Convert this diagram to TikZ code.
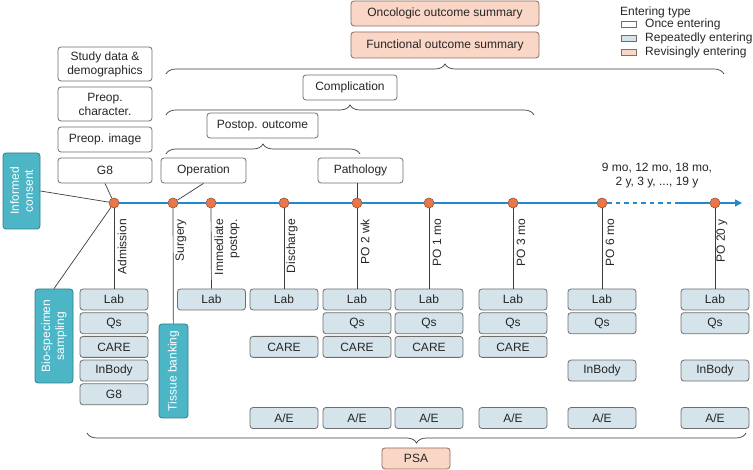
\documentclass[tikz,border=0pt]{standalone}
\usepackage{fontspec}
\setmainfont{Liberation Sans}
\usetikzlibrary{decorations.pathreplacing,arrows.meta}

\definecolor{boxgray}{HTML}{6E6E6E}
\definecolor{repblue}{HTML}{D5E3EB}
\definecolor{revfill}{HTML}{F9D6C6}
\definecolor{revdraw}{HTML}{8E6B5E}
\definecolor{samplefill}{HTML}{4CB6C7}
\definecolor{sampledraw}{HTML}{2E7E8A}
\definecolor{timeblue}{HTML}{1F8AD0}
\definecolor{dotfill}{HTML}{E8774B}
\definecolor{dotdraw}{HTML}{9C4E2E}
\definecolor{linegray}{HTML}{3C3C3C}

\begin{document}
\begin{tikzpicture}[x=1pt,y=1pt,font=\fontsize{12}{14}\selectfont,text=black!85]
        \tikzstyle{once box}=[draw=boxgray,fill=white,rounded corners=3pt,align=center,inner sep=0pt,line width=0.8pt,minimum height=25pt]
        \tikzstyle{rep box}=[draw=boxgray,fill=repblue,rounded corners=3pt,minimum width=68pt,minimum height=21pt,inner sep=0pt,line width=0.8pt,node distance=23.7pt]
        \tikzstyle{rev box}=[draw=revdraw,fill=revfill,rounded corners=3pt,inner sep=0pt,line width=0.8pt]
        \tikzstyle{sample box}=[draw=sampledraw,fill=samplefill,text=white,rounded corners=3pt,rotate=90,align=center,inner sep=0pt,line width=0.8pt]
        \tikzstyle{time dot}=[circle,draw=dotdraw,fill=dotfill,minimum size=10pt,inner sep=0pt,line width=0.6pt]
        \tikzstyle{time label}=[rotate=90,anchor=east,inner sep=0pt,align=right]
        \tikzstyle{conn}=[draw=linegray,line width=0.7pt]
        \tikzstyle{brace line}=[decorate,decoration={brace,amplitude=10pt},draw=linegray,line width=0.7pt]
        \tikzstyle{key box}=[draw=boxgray,minimum width=15pt,minimum height=6pt,inner sep=0pt,line width=0.7pt]

        \useasboundingbox (0,0) rectangle (753,470);

        % time points
        \node[time dot] (adm) at (114,267) {};
        \node[time dot] (sur) at (173,267) {};
        \node[time dot] (imm) at (211,267) {};
        \node[time dot] (dis) at (284,267) {};
        \node[time dot] (po2wk) at (357,267) {};
        \node[time dot] (po1mo) at (429,267) {};
        \node[time dot] (po3mo) at (513,267) {};
        \node[time dot] (po6mo) at (602,267) {};
        \node[time dot] (po20y) at (715,267) {};
        \coordinate (dashend) at (677,267);
        \coordinate (tip) at (742,267);

        \draw[draw=timeblue,line width=1.4pt] (adm) -- (sur) -- (imm) -- (dis) -- (po2wk) -- (po1mo) -- (po3mo) -- (po6mo);
        \draw[draw=timeblue,line width=1.4pt,dash pattern=on 4.5pt off 4pt] (po6mo) -- (dashend);
        \draw[draw=timeblue,line width=1.4pt] (dashend) -- (po20y);
        \draw[draw=timeblue,line width=1.4pt,-{Triangle[length=7pt,width=7pt]}] (po20y) -- (tip);

        \node[time label] (admlbl) at (122,251) {Admission};
        \node[time label] (surlbl) at (181,251) {Surgery};
        \node[time label] (immlbl) at (227,251) {Immediate\\postop.};
        \node[time label] (dislbl) at (292,251) {Discharge};
        \node[time label] (po2wklbl) at (365,251) {PO 2 wk};
        \node[time label] (po1molbl) at (437,251) {PO 1 mo};
        \node[time label] (po3molbl) at (521,251) {PO 3 mo};
        \node[time label] (po6molbl) at (610,251) {PO 6 mo};
        \node[time label] (po20ylbl) at (722,251) {PO 20 y};
        \node[align=center,inner sep=0pt] (later) at (657,294) {9 mo, 12 mo, 18 mo,\\2 y, 3 y, ..., 19 y};

        % repeated entries
        \node[rep box] (admlab) at (114,170.5) {Lab};
        \node[rep box] (admqs) [below of=admlab] {Qs};
        \node[rep box] (admcare) [below of=admqs] {CARE};
        \node[rep box] (adminb) [below of=admcare] {InBody};
        \node[rep box] (admg8) [below of=adminb] {G8};

        \node[rep box] (immlab) at (211.5,170.5) {Lab};

        \node[rep box] (dislab) at (284,170.5) {Lab};
        \node[rep box] (discare) [below of=dislab,node distance=47.4pt] {CARE};
        \node[rep box] (disae) [below of=discare,node distance=71.1pt] {A/E};

        \node[rep box] (po2wklab) at (357,170.5) {Lab};
        \node[rep box] (po2wkqs) [below of=po2wklab] {Qs};
        \node[rep box] (po2wkcare) [below of=po2wkqs] {CARE};
        \node[rep box] (po2wkae) [below of=po2wkcare,node distance=71.1pt] {A/E};

        \node[rep box] (po1molab) at (429,170.5) {Lab};
        \node[rep box] (po1moqs) [below of=po1molab] {Qs};
        \node[rep box] (po1mocare) [below of=po1moqs] {CARE};
        \node[rep box] (po1moae) [below of=po1mocare,node distance=71.1pt] {A/E};

        \node[rep box] (po3molab) at (513,170.5) {Lab};
        \node[rep box] (po3moqs) [below of=po3molab] {Qs};
        \node[rep box] (po3mocare) [below of=po3moqs] {CARE};
        \node[rep box] (po3moae) [below of=po3mocare,node distance=71.1pt] {A/E};

        \node[rep box] (po6molab) at (602,170.5) {Lab};
        \node[rep box] (po6moqs) [below of=po6molab] {Qs};
        \node[rep box] (po6moinb) [below of=po6moqs,node distance=47.4pt] {InBody};
        \node[rep box] (po6moae) [below of=po6moinb,node distance=47.4pt] {A/E};

        \node[rep box] (po20ylab) at (715,170.5) {Lab};
        \node[rep box] (po20yqs) [below of=po20ylab] {Qs};
        \node[rep box] (po20yinb) [below of=po20yqs,node distance=47.4pt] {InBody};
        \node[rep box] (po20yae) [below of=po20yinb,node distance=47.4pt] {A/E};

        % samples
        \node[sample box,minimum width=76pt,minimum height=37pt] (consent) at (21.5,279) {Informed\\consent};
        \node[sample box,minimum width=94pt,minimum height=38pt] (bio) at (54,134) {Bio-specimen\\sampling};
        \node[sample box,minimum width=94pt,minimum height=29pt] (tissue) at (173.5,99) {Tissue banking};

        % once entries
        \node[once box,minimum width=94pt,minimum height=34pt] (study) at (105,406) {Study data \&\\demographics};
        \node[once box,minimum width=94pt,minimum height=34pt] (preopchar) at (105,366) {Preop.\\character.};
        \node[once box,minimum width=94pt] (preopimg) at (105,330.5) {Preop. image};
        \node[once box,minimum width=94pt] (g8) at (105,299.5) {G8};
        \node[once box,minimum width=85pt] (oper) at (203.5,299.5) {Operation};
        \node[once box,minimum width=85pt] (patho) at (360.5,299.5) {Pathology};
        \node[once box,minimum width=111pt] (postop) at (262.5,344.5) {Postop. outcome};
        \node[once box,minimum width=94pt] (compl) at (350,382.5) {Complication};

        % revised entries
        \node[rev box,minimum width=188pt,minimum height=26pt] (func) at (445,425) {Functional outcome summary};
        \node[rev box,minimum width=188pt,minimum height=25pt] (onco) at (445,456.5) {Oncologic outcome summary};
        \node[rev box,minimum width=68pt,minimum height=21pt] (psa) at (416,11.5) {PSA};

        % connectors
        \draw[conn] (consent.south) -- (adm);
        \draw[conn] (bio.east) -- (adm);
        \draw[conn] (g8.south) -- (adm);
        \draw[conn] (adm) -- (admlab);
        \draw[conn] (oper.south) -- (sur);
        \draw[conn] (sur) -- (tissue);
        \draw[conn] (imm) -- (immlab);
        \draw[conn] (dis) -- (dislab);
        \draw[conn] (patho.south -| po2wk) -- (po2wk);
        \draw[conn] (po2wk) -- (po2wklab);
        \draw[conn] (po1mo) -- (po1molab);
        \draw[conn] (po3mo) -- (po3molab);
        \draw[conn] (po6mo) -- (po6molab);
        \draw[conn] (po20y) -- (po20ylab);

        % braces
        \draw[brace line] (166,316) -- (360,316);
        \draw[brace line] (166,355) -- (534,355);
        \draw[brace line] (166,396) -- (724,396);
        \draw[brace line] (746,37) -- (87,37);

        % legend
        \node[anchor=west,inner sep=0pt] (keytitle) at (620,458) {Entering type};
        \node[key box,fill=white] (keyonce) at (628.5,446) {};
        \node[key box,fill=repblue] (keyrep) at (628.5,432) {};
        \node[key box,draw=revdraw,fill=revfill] (keyrev) at (628.5,418) {};
        \node[anchor=west,inner sep=0pt] (keyoncetxt) at (645,446) {Once entering};
        \node[anchor=west,inner sep=0pt] (keyreptxt) at (645,432) {Repeatedly entering};
        \node[anchor=west,inner sep=0pt] (keyrevtxt) at (645,418) {Revisingly entering};
    \end{tikzpicture}
\end{document}
